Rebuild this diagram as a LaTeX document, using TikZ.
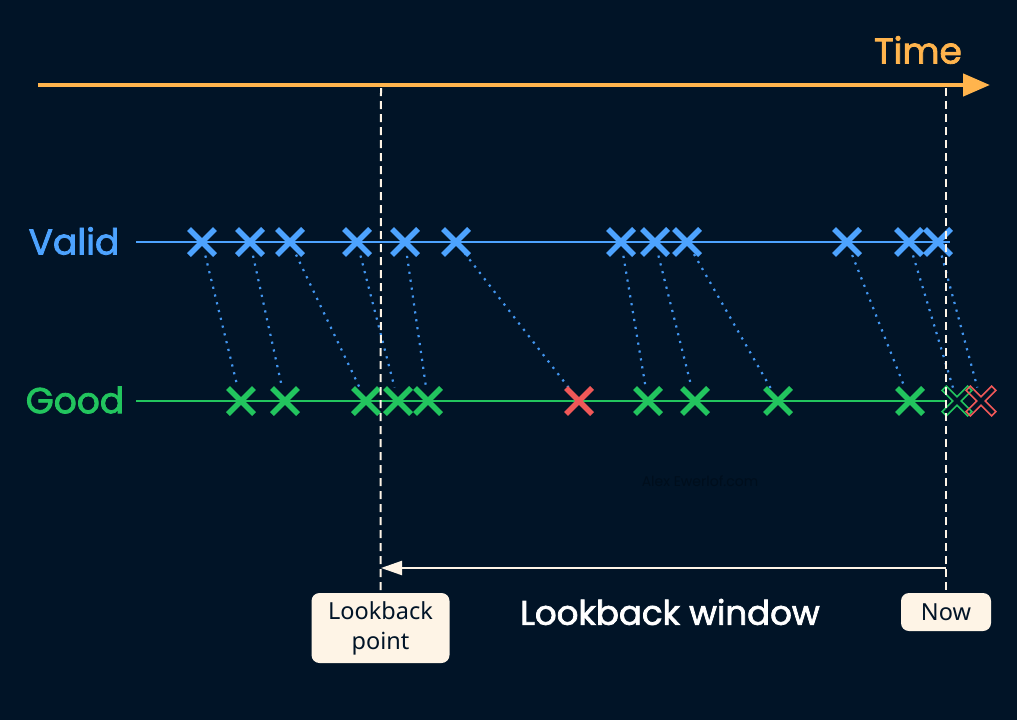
\documentclass[tikz,border=0pt]{standalone}
\usepackage{fontspec}
\setmainfont{Noto Sans}
\newfontfamily\geo{Poppins}[FakeBold=2.2]
\newfontfamily\geol{Poppins}
\usetikzlibrary{arrows.meta}
\definecolor{bg}{RGB}{1,20,39}
\definecolor{vblue}{RGB}{77,163,255}
\definecolor{dblue}{RGB}{66,150,240}
\definecolor{ggreen}{RGB}{34,197,94}
\definecolor{rred}{RGB}{240,88,88}
\definecolor{orng}{RGB}{255,180,77}
\definecolor{cream}{RGB}{254,244,230}
\definecolor{wmark}{RGB}{0,14,28}
\tikzset{
  xmark/.pic={\draw[line width=5.5pt,line cap=butt] (-13,-13)--(13,13) (-13,13)--(13,-13);},
  xoutline/.pic={\begin{scope}[rotate=45]
     \draw[line width=1.6pt,line join=miter] (3,3)--(18,3)--(18,-3)--(3,-3)--(3,-18)--(-3,-18)--(-3,-3)--(-18,-3)--(-18,3)--(-3,3)--(-3,18)--(3,18)--cycle;
     \end{scope}},
  dotline/.style={dblue,line width=2.2pt,dash pattern=on 2.2pt off 5.8pt,shorten <=14pt,shorten >=14pt},
  vdash/.style={cream,line width=2pt,dash pattern=on 8pt off 5pt},
  lbl/.style={font=\geo\fontsize{36}{40}\selectfont,anchor=center},
  tag/.style={fill=cream,rounded corners=8pt,text=bg,font=\fontsize{23.5}{30}\selectfont,align=center,inner sep=0pt}
}
\begin{document}
\begin{tikzpicture}[x=1pt,y=-1pt]
\fill[bg] (0,0) rectangle (1017,720);
\useasboundingbox (0,0) rectangle (1017,720);
\node[font=\geol\fontsize{14}{16}\selectfont,text=wmark] (wm) at (700,481) {Alex Ewerlof.com};

% time axis
\coordinate (t0) at (38,85);
\coordinate (t1) at (990,85);
\draw[orng,line width=4.5pt,-{Triangle[length=27pt,width=22pt]}] (t0) -- (t1);
\node[lbl,text=orng] (time) at (918,50) {Time};

% labels and lines
\node[lbl,text=vblue] (valid) at (74,241) {Valid};
\node[lbl,text=ggreen] (good) at (75,400) {Good};
\coordinate (vs) at (136,242); \coordinate (ve) at (950,242);
\coordinate (gs) at (136,401); \coordinate (ge) at (945,401);
\draw[vblue,line width=2.2pt] (vs) -- (ve);
\draw[ggreen,line width=2.2pt] (gs) -- (ge);

% valid points
\foreach \i/\x in {1/202,2/250,3/290,4/357,5/405,6/456,7/621,8/655,9/687,10/847,11/909,12/938}{
  \coordinate (v\i) at (\x,242);
}
% good points
\foreach \i/\x in {1/241,2/285,3/366,4/398,5/428,6/579,7/648,8/695,9/778,10/910,11/957,12/981}{
  \coordinate (g\i) at (\x,401);
}
% dotted connectors
\foreach \i in {1,...,12}{ \draw[dotline] (v\i) -- (g\i); }

\foreach \i in {1,...,12}{ \pic[vblue] at (v\i) {xmark}; }
\foreach \i in {1,2,3,4,5,7,8,9,10}{ \pic[ggreen] at (g\i) {xmark}; }
\pic[rred] at (g6) {xmark};
\pic[ggreen] at (g11) {xoutline};
\pic[rred] at (g12) {xoutline};

% tags
\node[tag,minimum width=138pt,minimum height=70pt] (lp) at (380.5,628) {Lookback\\point};
\node[tag,minimum width=90pt,minimum height=38pt] (now) at (946,612) {Now};

% vertical dashed lines
\coordinate (lt) at (381,88);
\coordinate (nt) at (946,88);
\draw[vdash] (lt) -- (lp.north);
\draw[vdash] (nt) -- (now.north);

% lookback window arrow
\coordinate (wa) at (946,568);
\coordinate (wb) at (381,568);
\draw[cream,line width=2.2pt,-{Triangle[length=21pt,width=14pt]}] (wa) -- (wb);
\node[font=\geo\fontsize{34}{40}\selectfont,text=white] (lw) at (670,612) {Lookback window};
\end{tikzpicture}
\end{document}
